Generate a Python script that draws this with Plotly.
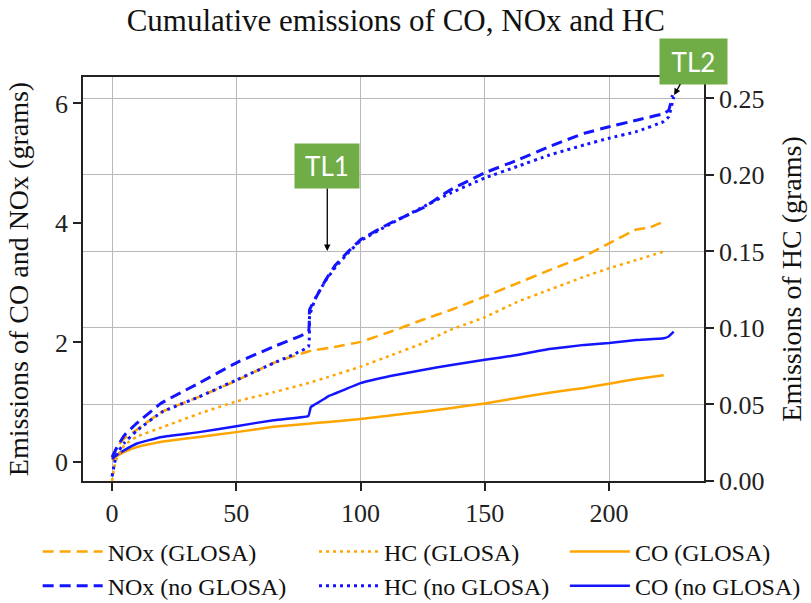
import plotly.graph_objects as go

# ---------------- data ----------------
x_nox_g = [0, 2, 5, 10, 20, 35, 50, 65, 79, 90, 100, 112, 125, 136, 150, 163, 176, 190, 200, 211, 216, 222]
nox_g = [0.05, 0.25, 0.40, 0.54, 0.84, 1.09, 1.36, 1.66, 1.85, 1.93, 2.01, 2.18, 2.38, 2.54, 2.77, 2.99, 3.21, 3.44, 3.66, 3.89, 3.92, 4.02]

x_nox_n = [0, 2, 5, 10, 20, 35, 50, 65, 79, 79.5, 82, 86, 90, 95, 100, 112, 125, 136, 150, 163, 176, 190, 200, 211, 222, 224, 225.5]
nox_n = [0.08, 0.25, 0.45, 0.65, 0.99, 1.32, 1.66, 1.93, 2.18, 2.55, 2.75, 3.05, 3.30, 3.52, 3.72, 4.00, 4.25, 4.55, 4.84, 5.05, 5.28, 5.50, 5.61, 5.72, 5.83, 5.89, 6.14]

x_hc_g = [0, 1, 2, 5, 10, 20, 35, 50, 65, 79, 87, 100, 112, 125, 136, 150, 163, 176, 190, 200, 211, 222]
hc_g = [0.0, 0.010, 0.015, 0.0235, 0.029, 0.035, 0.044, 0.052, 0.058, 0.064, 0.068, 0.0747, 0.082, 0.090, 0.0987, 0.107, 0.117, 0.125, 0.1335, 0.139, 0.1444, 0.150]

x_hc_n = [0, 1, 2, 5, 10, 20, 35, 50, 65, 79, 79.5, 82, 86, 90, 95, 100, 112, 125, 136, 150, 163, 176, 190, 200, 211, 222, 224, 226]
hc_n = [0.003, 0.012, 0.018, 0.025, 0.033, 0.045, 0.055, 0.066, 0.077, 0.0878, 0.108, 0.120, 0.131, 0.140, 0.149, 0.157, 0.168, 0.179, 0.188, 0.198, 0.2055, 0.213, 0.2196, 0.224, 0.2283, 0.2349, 0.238, 0.251]

x_co_g = [0, 2, 5, 10, 20, 35, 50, 65, 79, 87, 100, 112, 125, 136, 150, 163, 176, 190, 200, 211, 222]
co_g = [0.03, 0.10, 0.17, 0.25, 0.34, 0.42, 0.50, 0.59, 0.64, 0.67, 0.72, 0.78, 0.84, 0.90, 0.98, 1.07, 1.16, 1.24, 1.31, 1.39, 1.45]

x_co_n = [0, 2, 5, 10, 20, 35, 50, 65, 79, 80, 84, 87, 90, 100, 112, 125, 136, 150, 163, 176, 190, 200, 211, 222, 224, 226]
co_n = [0.05, 0.12, 0.20, 0.31, 0.42, 0.50, 0.60, 0.70, 0.77, 0.92, 1.02, 1.10, 1.15, 1.32, 1.44, 1.54, 1.62, 1.71, 1.79, 1.89, 1.96, 1.99, 2.04, 2.07, 2.10, 2.18]

x_ticks = [0, 50, 100, 150, 200]
title_text = "Cumulative emissions of CO, NOx and HC"
y1_title = "Emissions of CO and NOx (grams)"
y2_title = "Emissions of HC (grams)"

ORANGE = "#FFA500"
BLUE = "#1414FF"
SERIF = "Liberation Serif"

fig = go.Figure()

def add(x, y, name, color, dash, width, yaxis, legend):
    fig.add_trace(go.Scatter(
        x=x, y=y, mode="lines", yaxis=yaxis, legend=legend, name=name,
        line=dict(color=color, dash=dash, width=width, shape="spline", smoothing=0.3),
    ))

DASH = "11px,6px"
DOT = "3px,4px"
add(x_nox_g, nox_g, "NOx (GLOSA)", ORANGE, DASH, 2.5, "y", "legend")
add(x_nox_n, nox_n, "NOx (no GLOSA)", BLUE, DASH, 3, "y", "legend")
add(x_co_g, co_g, "CO (GLOSA)", ORANGE, "solid", 2.5, "y", "legend3")
add(x_co_n, co_n, "CO (no GLOSA)", BLUE, "solid", 2.5, "y", "legend3")
add(x_hc_g, hc_g, "HC (GLOSA)", ORANGE, DOT, 2.5, "y2", "legend2")
add(x_hc_n, hc_n, "HC (no GLOSA)", BLUE, DOT, 3, "y2", "legend2")

GRID = "#b8b8b8"
tickfont = dict(family=SERIF, size=26, color="#222")

def leg(xpos):
    return dict(orientation="v", yanchor="top", y=-0.12, xanchor="left", x=xpos,
                font=dict(family=SERIF, size=24, color="#111"),
                bgcolor="rgba(0,0,0,0)", traceorder="normal", itemwidth=60)

fig.update_layout(
    width=811, height=603,
    font=dict(family=SERIF, color="#111"),
    margin=dict(l=83, r=107, t=77, b=122, autoexpand=False),
    paper_bgcolor="white", plot_bgcolor="white",
    title=dict(text=title_text, x=0.488, xanchor="center", y=0.967, yanchor="middle",
               yref="container", font=dict(family=SERIF, size=31, color="#111")),
    xaxis=dict(range=[-11.7, 238.2], tickvals=x_ticks, showgrid=True, gridcolor=GRID, gridwidth=1,
               zeroline=False, showline=True, linecolor="#222", linewidth=1.5, mirror=True,
               ticks="outside", ticklen=8, tickwidth=1.5, tickcolor="#222", tickfont=tickfont),
    yaxis=dict(range=[-0.318, 6.443], dtick=2, tick0=0, showgrid=False, zeroline=False,
               showline=True, linecolor="#222", linewidth=1.5, ticks="outside", ticklen=8,
               tickwidth=1.5, tickcolor="#222", tickfont=tickfont,
               title=dict(text=y1_title, font=dict(family=SERIF, size=28, color="#111"), standoff=18)),
    yaxis2=dict(range=[0, 0.264], dtick=0.05, tick0=0, tickformat=".2f", overlaying="y", side="right",
                showgrid=True, gridcolor=GRID, gridwidth=1, zeroline=False,
                showline=True, linecolor="#222", linewidth=1.5, ticks="outside", ticklen=8,
                tickwidth=1.5, tickcolor="#222", tickfont=tickfont,
                title=dict(text=y2_title, font=dict(family=SERIF, size=28, color="#111"), standoff=18)),
    legend=leg(-0.073),
    legend2=leg(0.372),
    legend3=leg(0.776),
    showlegend=True,
)

ann_font = dict(family="Lato, Carlito, Open Sans, sans-serif", size=26, color="white")
fig.add_annotation(x=86.6, y=3.53, xref="x", yref="y", text="TL1", showarrow=True,
                   ax=0, ay=-85, arrowhead=2, arrowsize=1, arrowwidth=1.3, arrowcolor="black",
                   bgcolor="#70AD47", width=60, height=40, font=ann_font, borderpad=2)
fig.add_annotation(x=226.2, y=6.14, xref="x", yref="y", text="TL2", showarrow=True,
                   ax=19, ay=-34, arrowhead=2, arrowsize=1, arrowwidth=1.3, arrowcolor="black",
                   bgcolor="#70AD47", width=63, height=41, font=ann_font, borderpad=2)

fig.write_html("out.html", config={"displayModeBar": False},
               post_script="document.body.style.margin='0';")
